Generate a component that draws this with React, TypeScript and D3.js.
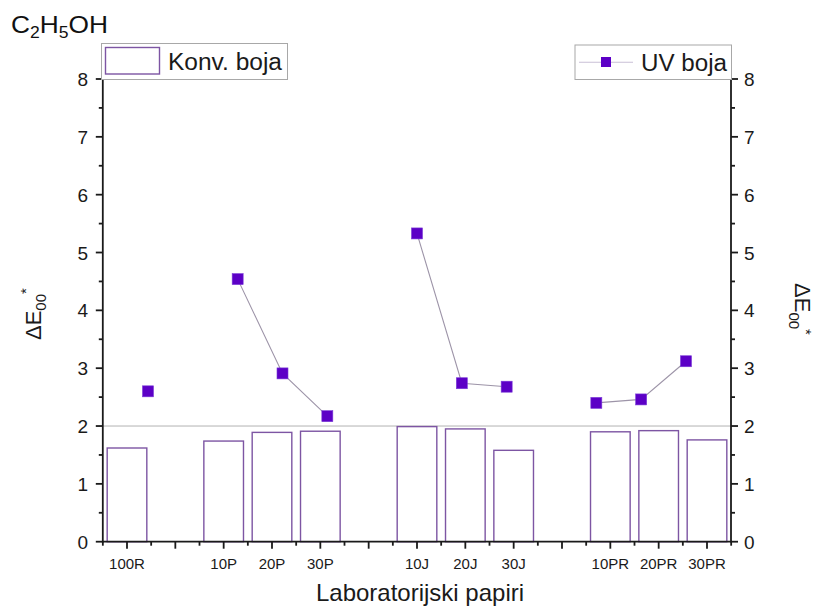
import React from "react";
import * as d3 from "d3";

const categories = ["100R", "", "10P", "20P", "30P", "", "10J", "20J", "30J", "", "10PR", "20PR", "30PR"];
const konvValues: (number | null)[] = [1.62, null, 1.74, 1.89, 1.91, null, 1.99, 1.95, 1.58, null, 1.9, 1.92, 1.76];
const uvValues: (number | null)[] = [2.6, null, 4.54, 2.91, 2.17, null, 5.33, 2.74, 2.68, null, 2.4, 2.46, 3.12];
const uvGroups = [[0], [2, 3, 4], [6, 7, 8], [10, 11, 12]];
const yTicks = [0, 1, 2, 3, 4, 5, 6, 7, 8];
const refLine = 2;

const W = 819, H = 614;
const FONT = "'Liberation Sans', Arial, sans-serif";
const BAR_STROKE = "#7d55a3";
const MARK = "#5c00c6";

export default function App() {
  const axL = 102.8, axR = 731, axB = 541.7, axT = 79;
  const y = d3.scaleLinear().domain([0, 8]).range([axB, axT]);
  const x = d3.scaleLinear().domain([0, 12]).range([127, 707]);
  const xUV = d3.scaleLinear().domain([0, 12]).range([148, 686]);
  const slot = x(1) - x(0);
  const barW = slot * 0.82;
  const minorY = d3.range(0.5, 8, 1);
  const minorX = d3.range(-0.5, 12.6, 1);
  const line = d3.line<number>().x((i) => xUV(i)).y((i) => y(uvValues[i] as number));

  return (
    <svg width={W} height={H} style={{ position: "absolute", left: 0, top: 0, background: "#fff" }} fontFamily={FONT}>
      {/* title */}
      <text x={11} y={33} fontSize={24} fill="#111" textLength={97} lengthAdjust="spacingAndGlyphs">
        C<tspan fontSize={16} dy={5}>2</tspan>
        <tspan dy={-5}>H</tspan>
        <tspan fontSize={16} dy={5}>5</tspan>
        <tspan dy={-5}>OH</tspan>
      </text>

      {/* reference line */}
      <line x1={axL} x2={axR} y1={y(refLine)} y2={y(refLine)} stroke="#b3b3b3" strokeWidth={1} />

      {/* bars */}
      {konvValues.map((v, i) =>
        v == null ? null : (
          <rect key={"b" + i} x={x(i) - barW / 2} y={y(v)} width={barW} height={axB - y(v)}
            fill="#fff" stroke={BAR_STROKE} strokeWidth={1.4} />
        )
      )}

      {/* UV lines */}
      {uvGroups.map((g, k) =>
        g.length > 1 ? <path key={"l" + k} d={line(g) as string} fill="none" stroke="#9d94a8" strokeWidth={1.1} /> : null
      )}
      {uvValues.map((v, i) =>
        v == null ? null : (
          <rect key={"m" + i} x={xUV(i) - 5.5} y={y(v) - 5.5} width={11} height={11} fill={MARK} stroke="#7a3ad8" strokeWidth={0.6} />
        )
      )}

      {/* axes */}
      <g stroke="#1a1a1a" strokeWidth={1.8}>
        <line x1={axL} x2={axL} y1={axT} y2={axB + 0.9} />
        <line x1={axR} x2={axR} y1={axT} y2={axB + 0.9} />
        <line x1={axL - 0.9} x2={axR + 0.9} y1={axB} y2={axB} />
        {yTicks.map((t) => (
          <g key={"yt" + t}>
            <line x1={axL - 7} x2={axL} y1={y(t)} y2={y(t)} />
            <line x1={axR} x2={axR + 7} y1={y(t)} y2={y(t)} />
          </g>
        ))}
        {minorY.map((t) => (
          <g key={"ym" + t}>
            <line x1={axL - 4} x2={axL} y1={y(t)} y2={y(t)} />
            <line x1={axR} x2={axR + 4} y1={y(t)} y2={y(t)} />
          </g>
        ))}
        {categories.map((c, i) => (
          <line key={"xt" + i} x1={x(i)} x2={x(i)} y1={axB} y2={axB + 7} />
        ))}
        {minorX.map((t) => (
          <line key={"xm" + t} x1={x(t)} x2={x(t)} y1={axB} y2={axB + 4} />
        ))}
      </g>

      {/* y tick labels */}
      {yTicks.map((t) => (
        <g key={"yl" + t} fontSize={19} fill="#1a1a1a">
          <text x={88} y={y(t) + 7} textAnchor="end">{t}</text>
          <text x={744} y={y(t) + 7} textAnchor="start">{t}</text>
        </g>
      ))}

      {/* x tick labels */}
      {categories.map((c, i) => (
        <text key={"xl" + i} x={x(i)} y={569} fontSize={15} textAnchor="middle" fill="#1a1a1a">{c}</text>
      ))}

      {/* axis titles */}
      <text x={420} y={601} fontSize={24} textAnchor="middle" fill="#1a1a1a">Laboratorijski papiri</text>
      <text transform={`translate(41,340) rotate(-90)`} fontSize={22} fill="#1a1a1a">
        ΔE<tspan fontSize={15} dy={5}>00</tspan><tspan fontSize={15} dy={-15}>*</tspan>
      </text>
      <text transform={`translate(795,283) rotate(90)`} fontSize={22} fill="#1a1a1a">
        ΔE<tspan fontSize={15} dy={6}>00</tspan><tspan fontSize={15} dy={-12}>*</tspan>
      </text>

      {/* legend 1 */}
      <rect x={101.5} y={43.5} width={186} height={36} fill="#fff" stroke="#a8a8a8" strokeWidth={1} />
      <rect x={105.5} y={47.5} width={54} height={26.5} fill="#fff" stroke={BAR_STROKE} strokeWidth={1.4} />
      <text x={168} y={70} fontSize={23} fill="#1a1a1a" textLength={114} lengthAdjust="spacingAndGlyphs">Konv. boja</text>

      {/* legend 2 */}
      <rect x={575} y={45} width={156.5} height={34.5} fill="#fff" stroke="#a8a8a8" strokeWidth={1} />
      <line x1={579} x2={633} y1={62.3} y2={62.3} stroke="#c9bfd6" strokeWidth={1.1} />
      <rect x={601} y={57} width={10} height={10} fill={MARK} />
      <text x={641} y={70.5} fontSize={23} fill="#1a1a1a" textLength={86} lengthAdjust="spacingAndGlyphs">UV boja</text>
    </svg>
  );
}
